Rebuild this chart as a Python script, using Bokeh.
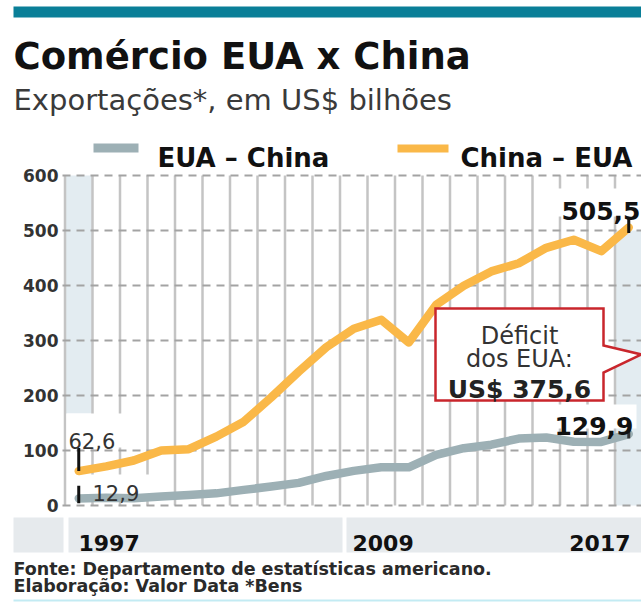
from bokeh.plotting import figure
from bokeh.models import Range1d
from bokeh.core.properties import value
from bokeh.embed import file_html
from bokeh.resources import INLINE

# ---------------- data ----------------
years = list(range(1997, 2018))
eua_china = [12.9, 14.2, 13.1, 16.2, 19.2, 22.1, 28.4, 34.4, 41.2, 53.7, 62.9,
             69.7, 69.5, 91.9, 104.1, 110.5, 121.7, 123.7, 115.9, 115.6, 129.9]
china_eua = [62.6, 71.2, 81.8, 100.0, 102.3, 125.2, 152.4, 196.7, 243.5, 287.8, 321.4,
             337.8, 296.4, 364.9, 399.4, 425.6, 440.4, 468.5, 483.2, 462.4, 505.5]
y_ticks = [0, 100, 200, 300, 400, 500, 600]
y_tick_labels = ["0", "100", "200", "300", "400", "500", "600"]
x_labels = ["1997", "2009", "2017"]
series_names = ["EUA – China", "China – EUA"]
title_text = "Comércio EUA x China"
subtitle_text = "Exportações*, em US$ bilhões"
footer_lines = ["Fonte: Departamento de estatísticas americano.",
                "Elaboração: Valor Data *Bens"]
deficit = round(china_eua[-1] - eua_china[-1], 1)

# ---------------- layout helpers (page pixels -> data) ----------------
W, H = 641, 602
OFF = 0
PX_YEAR = 27.5
X_LEFT_PAGE = 64.5
Y0_PAGE = 505.0
PX_UNIT = 0.55
X_START = years[0] - 0.5


def X(px):
    return X_START + (px - OFF - X_LEFT_PAGE) / PX_YEAR


def Y(py):
    return (Y0_PAGE - (py - OFF)) / PX_UNIT


def fmt(v):
    return f"{v:.1f}".replace(".", ",")


GRAY = "#9db0b5"
ORANGE = "#fab848"
RED = "#c9262c"
BAND = "#e3ecf1"
XBAND = "#e6eaed"
FONT = "DejaVu Sans"

p = figure(width=W, height=H,
           x_range=Range1d(X(OFF), X(OFF + W)),
           y_range=Range1d(Y(OFF + H), Y(OFF)),
           x_axis_type=None, y_axis_type=None,
           toolbar_location=None, output_backend="svg",
           min_border=0, outline_line_color=None,
           background_fill_color="white", border_fill_color="white")


def text(x, y, s, size, bold=False, color="#222222", align="left",
         baseline="alphabetic", font=FONT):
    p.text(x=[x], y=[y], text=[s], text_font=value(font),
           text_font_size=f"{size}px",
           text_font_style="bold" if bold else "normal",
           text_color=color, text_align=align, text_baseline=baseline)


def box(x0, x1, y0, y1, color, line=None):
    p.quad(left=[X(x0)], right=[X(x1)], top=[Y(y0)], bottom=[Y(y1)],
           fill_color=color, line_color=line)


RIGHT = OFF + W

# ---------------- header ----------------
box(13, RIGHT, 6, 17, "#0a7f98")
text(X(13), Y(56), title_text, 37, bold=True, color="#111111")
text(X(13), Y(99), subtitle_text, 29, color="#3a3a3a")

# legend
box(93, 138, 143, 152, GRAY)
text(X(157), Y(157), series_names[0], 26, bold=True, color="#111111")
box(397, 448, 144, 152, ORANGE)
text(X(460), Y(157), series_names[1], 26, bold=True, color="#111111")

# ---------------- plot area ----------------
x_end = X(RIGHT)
# highlighted first / last columns
p.quad(left=[years[0] - 0.5], right=[years[0] + 0.5], bottom=[Y(413)], top=[y_ticks[-1]],
       fill_color=BAND, line_color=None)
p.quad(left=[years[-1] - 0.5], right=[x_end], bottom=[y_ticks[0]], top=[Y(230)],
       fill_color=BAND, line_color=None)

# vertical grid (column boundaries)
vx = [years[0] - 0.5] + [yr + 0.5 for yr in years[:-1]]
p.segment(x0=vx, x1=vx, y0=[y_ticks[0]] * len(vx), y1=[y_ticks[-1]] * len(vx),
          line_color="#c4c4c4", line_width=2.5)
# horizontal dashed grid
p.segment(x0=[X(62)] * len(y_ticks), x1=[x_end] * len(y_ticks), y0=y_ticks, y1=y_ticks,
          line_color="#a3a3a3", line_width=2, line_dash="8 6")

# y tick labels
p.text(x=[X(58)] * len(y_ticks), y=y_ticks, text=y_tick_labels,
       text_font=value(FONT), text_font_size="17px", text_font_style="bold",
       text_color="#333333", text_align="right", text_baseline="middle")

# white backgrounds behind value labels
box(66, 131, 413, 447, "white")
box(90, 150, 474, 494, "white")
box(553, RIGHT, 188, 216, "white")
box(553, 636, 404, 428, "white")

# data lines
p.line(years, eua_china, line_color=GRAY, line_width=8.5, line_join="round", line_cap="round")
p.line(years, china_eua, line_color=ORANGE, line_width=8.5, line_join="round", line_cap="round")

# markers for end values
p.segment(x0=[years[0]], x1=[years[0]], y0=[china_eua[0]], y1=[china_eua[0] + 42],
          line_color="#111111", line_width=3)
p.segment(x0=[years[0]], x1=[years[0]], y0=[eua_china[0] - 9], y1=[eua_china[0] + 23],
          line_color="#111111", line_width=3)
p.segment(x0=[years[-1]], x1=[years[-1]], y0=[china_eua[-1] - 10], y1=[china_eua[-1] + 16],
          line_color="#111111", line_width=3)
p.segment(x0=[years[-1]], x1=[years[-1]], y0=[eua_china[-1] - 8], y1=[eua_china[-1] + 8],
          line_color="#333333", line_width=3)

text(X(68), Y(440), fmt(china_eua[0]), 21, color="#333333")
text(X(92), Y(492), fmt(eua_china[0]), 21, color="#333333")
text(X(640), Y(210), fmt(china_eua[-1]), 25, bold=True, color="#111111", align="right")
text(X(633), Y(425), fmt(eua_china[-1]), 25, bold=True, color="#111111", align="right")

# deficit callout
cx = [435, 603, 603, 641, 603, 603, 435]
cy = [308, 308, 345, 354, 372, 400, 400]
p.patch([X(v) for v in cx], [Y(v) for v in cy], fill_color="white",
        line_color=RED, line_width=2.5, line_join="miter")
text(X(519), Y(335), "Déficit", 24, color="#333333", align="center")
text(X(519), Y(358), "dos EUA:", 24, color="#333333", align="center")
text(X(519), Y(389), f"US$ {fmt(deficit)}", 25, bold=True, color="#222222", align="center")

# ---------------- x band ----------------
box(13, 63, 517, 552, XBAND)
box(68, 342, 517, 552, XBAND)
box(346, RIGHT, 517, 552, XBAND)
text(X(78), Y(542), x_labels[0], 22, bold=True, color="#111111")
text(X(352), Y(542), x_labels[1], 22, bold=True, color="#111111")
text(X(630), Y(542), x_labels[2], 22, bold=True, color="#111111", align="right")

# ---------------- footer ----------------
text(X(13), Y(568), footer_lines[0], 17.5, bold=True, color="#2a2a2a")
text(X(13), Y(585), footer_lines[1], 17.5, bold=True, color="#2a2a2a")
p.segment(x0=[X(13)], x1=[x_end], y0=[Y(600)], y1=[Y(600)], line_color="#c3ebf3", line_width=2)

open("out.html", "w").write(file_html(p, INLINE))
